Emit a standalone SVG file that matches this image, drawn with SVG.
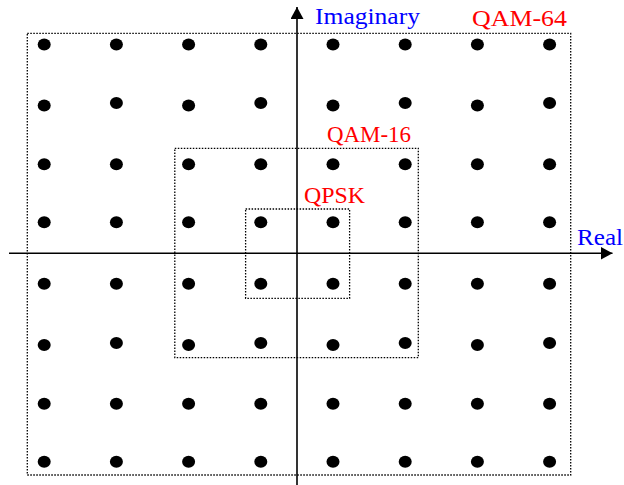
<svg xmlns="http://www.w3.org/2000/svg" width="624" height="485" viewBox="0 0 624 485">
<style>
.lbl{font-family:"Liberation Serif","Times New Roman",serif;font-size:23px}
.red{fill:#ff0000}
.blue{fill:#0000ff}
.box{fill:none;stroke:#000;stroke-width:1.3;stroke-dasharray:1.5 1.5}
.axis{stroke:#000;stroke-width:1.6;fill:none}
.pt{fill:#000}
</style>
<defs>
<marker id="ah" markerUnits="userSpaceOnUse" markerWidth="13" markerHeight="13" refX="12" refY="6.5" orient="auto">
<path d="M0,0 L12,6.5 L0,13 Z" fill="#000"/>
</marker>
</defs>
<g id="boxes">
<rect id="qam64-box" class="box" x="27.3" y="33.3" width="543.4" height="441.7"/>
<rect id="qam16-box" class="box" x="174.8" y="148.3" width="243.5" height="209.4"/>
<rect id="qpsk-box" class="box" x="245.6" y="209" width="104" height="89.3"/>
</g>
<g id="connectors">
<line class="axis" x1="9" y1="253.3" x2="612.5" y2="253.3" marker-end="url(#ah)"/>
<line class="axis" x1="297" y1="485" x2="297" y2="7" marker-end="url(#ah)"/>
</g>
<g id="points">
<ellipse class="pt" cx="44.2" cy="44.4" rx="6.5" ry="6"/>
<ellipse class="pt" cx="116.4" cy="44.4" rx="6.5" ry="6"/>
<ellipse class="pt" cx="188.6" cy="44.4" rx="6.5" ry="6"/>
<ellipse class="pt" cx="260.8" cy="44.4" rx="6.5" ry="6"/>
<ellipse class="pt" cx="333" cy="44.4" rx="6.5" ry="6"/>
<ellipse class="pt" cx="405.2" cy="44.4" rx="6.5" ry="6"/>
<ellipse class="pt" cx="477.4" cy="44.4" rx="6.5" ry="6"/>
<ellipse class="pt" cx="549.6" cy="44.4" rx="6.5" ry="6"/>

<ellipse class="pt" cx="44.2" cy="105.5" rx="6.5" ry="6"/>
<ellipse class="pt" cx="116.4" cy="103" rx="6.5" ry="6"/>
<ellipse class="pt" cx="188.6" cy="105.5" rx="6.5" ry="6"/>
<ellipse class="pt" cx="260.8" cy="103" rx="6.5" ry="6"/>
<ellipse class="pt" cx="333" cy="105.5" rx="6.5" ry="6"/>
<ellipse class="pt" cx="405.2" cy="103" rx="6.5" ry="6"/>
<ellipse class="pt" cx="477.4" cy="105.5" rx="6.5" ry="6"/>
<ellipse class="pt" cx="549.6" cy="103" rx="6.5" ry="6"/>

<ellipse class="pt" cx="44.2" cy="164.3" rx="6.5" ry="6"/>
<ellipse class="pt" cx="116.4" cy="164.3" rx="6.5" ry="6"/>
<ellipse class="pt" cx="188.6" cy="164.3" rx="6.5" ry="6"/>
<ellipse class="pt" cx="260.8" cy="164.3" rx="6.5" ry="6"/>
<ellipse class="pt" cx="333" cy="164.3" rx="6.5" ry="6"/>
<ellipse class="pt" cx="405.2" cy="164.3" rx="6.5" ry="6"/>
<ellipse class="pt" cx="477.4" cy="164.3" rx="6.5" ry="6"/>
<ellipse class="pt" cx="549.6" cy="164.3" rx="6.5" ry="6"/>

<ellipse class="pt" cx="44.2" cy="222.3" rx="6.5" ry="6"/>
<ellipse class="pt" cx="116.4" cy="222.3" rx="6.5" ry="6"/>
<ellipse class="pt" cx="188.6" cy="222.3" rx="6.5" ry="6"/>
<ellipse class="pt" cx="260.8" cy="222.3" rx="6.5" ry="6"/>
<ellipse class="pt" cx="333" cy="222.3" rx="6.5" ry="6"/>
<ellipse class="pt" cx="405.2" cy="222.3" rx="6.5" ry="6"/>
<ellipse class="pt" cx="477.4" cy="222.3" rx="6.5" ry="6"/>
<ellipse class="pt" cx="549.6" cy="222.3" rx="6.5" ry="6"/>

<ellipse class="pt" cx="44.2" cy="283.7" rx="6.5" ry="6"/>
<ellipse class="pt" cx="116.4" cy="283.7" rx="6.5" ry="6"/>
<ellipse class="pt" cx="188.6" cy="283.7" rx="6.5" ry="6"/>
<ellipse class="pt" cx="260.8" cy="283.7" rx="6.5" ry="6"/>
<ellipse class="pt" cx="333" cy="283.7" rx="6.5" ry="6"/>
<ellipse class="pt" cx="405.2" cy="283.7" rx="6.5" ry="6"/>
<ellipse class="pt" cx="477.4" cy="283.7" rx="6.5" ry="6"/>
<ellipse class="pt" cx="549.6" cy="283.7" rx="6.5" ry="6"/>

<ellipse class="pt" cx="44.2" cy="345" rx="6.5" ry="6"/>
<ellipse class="pt" cx="116.4" cy="343" rx="6.5" ry="6"/>
<ellipse class="pt" cx="188.6" cy="345" rx="6.5" ry="6"/>
<ellipse class="pt" cx="260.8" cy="343" rx="6.5" ry="6"/>
<ellipse class="pt" cx="333" cy="345" rx="6.5" ry="6"/>
<ellipse class="pt" cx="405.2" cy="343" rx="6.5" ry="6"/>
<ellipse class="pt" cx="477.4" cy="345" rx="6.5" ry="6"/>
<ellipse class="pt" cx="549.6" cy="343" rx="6.5" ry="6"/>

<ellipse class="pt" cx="44.2" cy="403.7" rx="6.5" ry="6"/>
<ellipse class="pt" cx="116.4" cy="403.7" rx="6.5" ry="6"/>
<ellipse class="pt" cx="188.6" cy="403.7" rx="6.5" ry="6"/>
<ellipse class="pt" cx="260.8" cy="403.7" rx="6.5" ry="6"/>
<ellipse class="pt" cx="333" cy="403.7" rx="6.5" ry="6"/>
<ellipse class="pt" cx="405.2" cy="403.7" rx="6.5" ry="6"/>
<ellipse class="pt" cx="477.4" cy="403.7" rx="6.5" ry="6"/>
<ellipse class="pt" cx="549.6" cy="403.7" rx="6.5" ry="6"/>

<ellipse class="pt" cx="44.2" cy="461.7" rx="6.5" ry="6"/>
<ellipse class="pt" cx="116.4" cy="461.7" rx="6.5" ry="6"/>
<ellipse class="pt" cx="188.6" cy="461.7" rx="6.5" ry="6"/>
<ellipse class="pt" cx="260.8" cy="461.7" rx="6.5" ry="6"/>
<ellipse class="pt" cx="333" cy="461.7" rx="6.5" ry="6"/>
<ellipse class="pt" cx="405.2" cy="461.7" rx="6.5" ry="6"/>
<ellipse class="pt" cx="477.4" cy="461.7" rx="6.5" ry="6"/>
<ellipse class="pt" cx="549.6" cy="461.7" rx="6.5" ry="6"/>
</g>
<g id="labels">
<text id="lbl-imag" class="lbl blue" x="315" y="23.5" textLength="105" lengthAdjust="spacingAndGlyphs">Imaginary</text>
<text id="lbl-real" class="lbl blue" x="577" y="245" textLength="46" lengthAdjust="spacingAndGlyphs">Real</text>
<text id="lbl-qam64" class="lbl red" x="472" y="26" textLength="95" lengthAdjust="spacingAndGlyphs">QAM-64</text>
<text id="lbl-qam16" class="lbl red" x="327" y="141.5" textLength="84" lengthAdjust="spacingAndGlyphs">QAM-16</text>
<text id="lbl-qpsk" class="lbl red" x="304" y="202.5" textLength="61" lengthAdjust="spacingAndGlyphs">QPSK</text>
</g>
</svg>
